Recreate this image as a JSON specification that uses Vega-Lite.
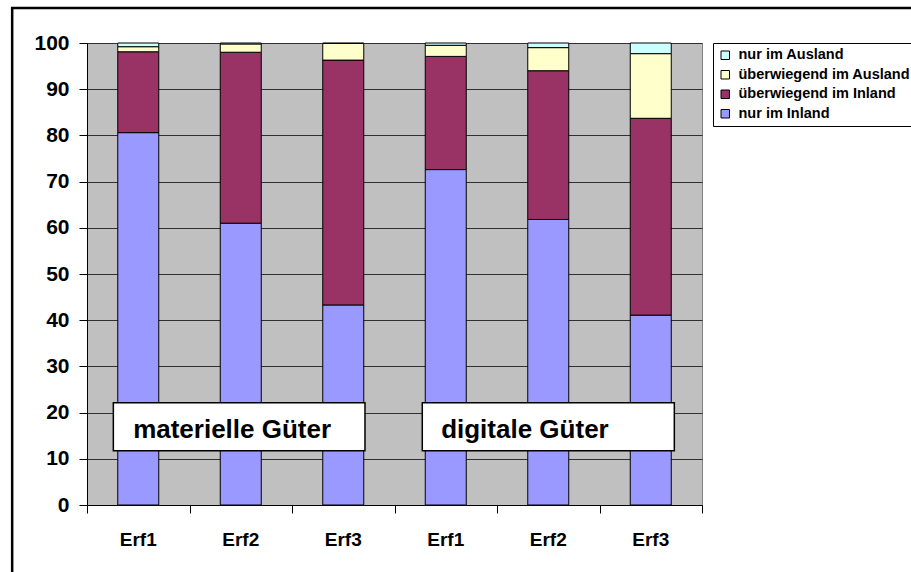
{
  "$schema": "https://vega.github.io/schema/vega-lite/v6.json",
  "width": 615,
  "height": 462,
  "autosize": {"type": "none"},
  "padding": {"left": 87, "top": 43, "right": 209, "bottom": 67},
  "background": "white",
  "config": {
    "font": "Liberation Sans",
    "view": {"fill": "#C0C0C0", "stroke": "#808080", "strokeWidth": 1}
  },
  "datasets": {
    "bars": [
      {"Balken": "Erf1 materiell", "Kategorie": "nur im Inland", "Rang": 1, "Anteil": 80.6},
      {"Balken": "Erf1 materiell", "Kategorie": "überwiegend im Inland", "Rang": 2, "Anteil": 17.5},
      {"Balken": "Erf1 materiell", "Kategorie": "überwiegend im Ausland", "Rang": 3, "Anteil": 1.1},
      {"Balken": "Erf1 materiell", "Kategorie": "nur im Ausland", "Rang": 4, "Anteil": 0.8},
      {"Balken": "Erf2 materiell", "Kategorie": "nur im Inland", "Rang": 1, "Anteil": 61.0},
      {"Balken": "Erf2 materiell", "Kategorie": "überwiegend im Inland", "Rang": 2, "Anteil": 37.0},
      {"Balken": "Erf2 materiell", "Kategorie": "überwiegend im Ausland", "Rang": 3, "Anteil": 1.8},
      {"Balken": "Erf2 materiell", "Kategorie": "nur im Ausland", "Rang": 4, "Anteil": 0.2},
      {"Balken": "Erf3 materiell", "Kategorie": "nur im Inland", "Rang": 1, "Anteil": 43.3},
      {"Balken": "Erf3 materiell", "Kategorie": "überwiegend im Inland", "Rang": 2, "Anteil": 53.0},
      {"Balken": "Erf3 materiell", "Kategorie": "überwiegend im Ausland", "Rang": 3, "Anteil": 3.6},
      {"Balken": "Erf3 materiell", "Kategorie": "nur im Ausland", "Rang": 4, "Anteil": 0.1},
      {"Balken": "Erf1 digital", "Kategorie": "nur im Inland", "Rang": 1, "Anteil": 72.6},
      {"Balken": "Erf1 digital", "Kategorie": "überwiegend im Inland", "Rang": 2, "Anteil": 24.5},
      {"Balken": "Erf1 digital", "Kategorie": "überwiegend im Ausland", "Rang": 3, "Anteil": 2.4},
      {"Balken": "Erf1 digital", "Kategorie": "nur im Ausland", "Rang": 4, "Anteil": 0.5},
      {"Balken": "Erf2 digital", "Kategorie": "nur im Inland", "Rang": 1, "Anteil": 61.8},
      {"Balken": "Erf2 digital", "Kategorie": "überwiegend im Inland", "Rang": 2, "Anteil": 32.2},
      {"Balken": "Erf2 digital", "Kategorie": "überwiegend im Ausland", "Rang": 3, "Anteil": 5.0},
      {"Balken": "Erf2 digital", "Kategorie": "nur im Ausland", "Rang": 4, "Anteil": 1.0},
      {"Balken": "Erf3 digital", "Kategorie": "nur im Inland", "Rang": 1, "Anteil": 41.1},
      {"Balken": "Erf3 digital", "Kategorie": "überwiegend im Inland", "Rang": 2, "Anteil": 42.6},
      {"Balken": "Erf3 digital", "Kategorie": "überwiegend im Ausland", "Rang": 3, "Anteil": 14.0},
      {"Balken": "Erf3 digital", "Kategorie": "nur im Ausland", "Rang": 4, "Anteil": 2.3}
    ],
    "beschriftung": [
      {"Gruppe": "materielle Güter", "x0": 0.257, "x1": 2.712, "y0": 11.75, "y1": 22.14, "tx": 0.45, "ty": 14.57},
      {"Gruppe": "digitale Güter", "x0": 3.271, "x1": 5.73, "y0": 11.75, "y1": 22.14, "tx": 3.455, "ty": 14.57}
    ]
  },
  "layer": [
    {
      "data": {"values": [{}]},
      "mark": {"type": "rect", "fill": null, "stroke": "black", "strokeWidth": 2.5},
      "encoding": {
        "x": {
          "datum": -0.73,
          "type": "quantitative",
          "scale": {"domain": [0, 6], "nice": false, "zero": false},
          "axis": {
            "orient": "bottom",
            "title": null,
            "values": [0, 1, 2, 3, 4, 5, 6],
            "labels": false,
            "ticks": true,
            "tickSize": 8,
            "tickColor": "black",
            "tickWidth": 1,
            "domain": true,
            "domainColor": "black",
            "grid": false
          }
        },
        "x2": {"datum": 8.3},
        "y": {"datum": 107.6, "type": "quantitative", "title": null},
        "y2": {"datum": -17}
      }
    },
    {
      "data": {"name": "bars"},
      "mark": {"type": "bar", "stroke": "black", "strokeWidth": 1},
      "encoding": {
        "x": {
          "field": "Balken",
          "type": "nominal",
          "sort": null,
          "scale": {"paddingInner": 0.6, "paddingOuter": 0.3},
          "axis": {
            "orient": "bottom",
            "title": null,
            "labelAngle": 0,
            "labelExpr": "slice(datum.label, 0, 4)",
            "labelFontSize": 19,
            "labelFontWeight": "bold",
            "labelColor": "black",
            "labelPadding": 25,
            "ticks": false,
            "domain": false,
            "grid": false
          }
        },
        "y": {
          "field": "Anteil",
          "type": "quantitative",
          "stack": "zero",
          "title": null,
          "scale": {"domain": [0, 100], "nice": false},
          "axis": {
            "values": [0, 10, 20, 30, 40, 50, 60, 70, 80, 90, 100],
            "labelFontSize": 21,
            "labelFontWeight": "bold",
            "labelColor": "black",
            "labelPadding": 10,
            "tickSize": 8,
            "tickColor": "black",
            "domainColor": "black",
            "grid": true,
            "gridColor": "#303030",
            "gridWidth": 1
          }
        },
        "color": {
          "field": "Kategorie",
          "type": "nominal",
          "scale": {
            "domain": ["nur im Ausland", "überwiegend im Ausland", "überwiegend im Inland", "nur im Inland"],
            "range": ["#CCFFFF", "#FFFFCC", "#993366", "#9999FF"]
          },
          "legend": {
            "title": null,
            "orient": "right",
            "offset": 11,
            "padding": 5,
            "strokeColor": "black",
            "fillColor": "white",
            "symbolType": "square",
            "symbolSize": 72,
            "symbolStrokeColor": "black",
            "symbolStrokeWidth": 1,
            "symbolOpacity": 1,
            "labelFontSize": 14.5,
            "labelFontWeight": "bold",
            "labelColor": "black",
            "labelOffset": 6,
            "rowPadding": 4.5,
            "labelLimit": 300
          }
        },
        "order": {"field": "Rang", "type": "quantitative"}
      }
    },
    {
      "data": {"name": "beschriftung"},
      "mark": {"type": "rect", "fill": "white", "stroke": "black", "strokeWidth": 1.5},
      "encoding": {
        "x": {"field": "x0", "type": "quantitative", "scale": {"domain": [0, 6], "nice": false, "zero": false}, "axis": null},
        "x2": {"field": "x1"},
        "y": {"field": "y0", "type": "quantitative", "title": null},
        "y2": {"field": "y1"}
      }
    },
    {
      "data": {"name": "beschriftung"},
      "mark": {"type": "text", "align": "left", "baseline": "alphabetic", "fontSize": 26, "fontWeight": "bold", "color": "black"},
      "encoding": {
        "x": {"field": "tx", "type": "quantitative", "scale": {"domain": [0, 6], "nice": false, "zero": false}, "axis": null},
        "y": {"field": "ty", "type": "quantitative", "title": null},
        "text": {"field": "Gruppe"}
      }
    }
  ],
  "resolve": {"scale": {"x": "independent"}}
}
